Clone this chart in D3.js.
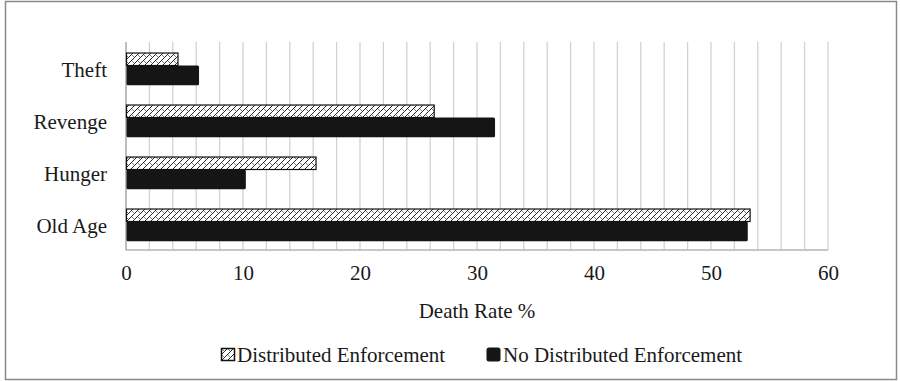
<!DOCTYPE html>
<html>
<head>
<meta charset="utf-8">
<script src="https://cdn.jsdelivr.net/npm/d3@7"></script>
<style>
  html, body { margin: 0; padding: 0; background: #fff; }
  svg { display: block; }
  svg text { font-family: 'Liberation Serif', 'DejaVu Serif', serif; }
</style>
</head>
<body>
<svg id="chart" width="900" height="381"></svg>
<script>
// Causes of death, drawn top to bottom
const categories = ["Theft", "Revenge", "Hunger", "Old Age"];
const seriesNames = ["Distributed Enforcement", "No Distributed Enforcement"];
const distributed = [4.4, 26.3, 16.2, 53.3];
const noDistributed = [6.2, 31.5, 10.2, 53.1];
const xTicks = [0, 10, 20, 30, 40, 50, 60];
const gridStep = 2;
const axisTitle = "Death Rate %";

const FONT = "'Liberation Serif', 'DejaVu Serif', serif";
const FS = 21;
const svg = d3.select("#chart");
const W = 900, H = 381;
const plot = { left: 126, right: 828, top: 42, bottom: 250 };

// Outer frame
svg.append("rect")
  .attr("x", 5.5).attr("y", 1.5)
  .attr("width", W - 9).attr("height", H - 3)
  .attr("fill", "#fff").attr("stroke", "#8a8a8a").attr("stroke-width", 1.5);

// Hatch pattern for the first series
const defs = svg.append("defs");
const pat = defs.append("pattern")
  .attr("id", "hatch")
  .attr("patternUnits", "userSpaceOnUse")
  .attr("width", 6).attr("height", 6);
pat.append("rect").attr("width", 6).attr("height", 6).attr("fill", "#fff");
pat.append("path")
  .attr("d", "M0,6 L6,0 M-1,1 L1,-1 M5,7 L7,5")
  .attr("stroke", "#222").attr("stroke-width", 1);
pat.append("path")
  .attr("d", "M0,1 L2.5,3.5")
  .attr("stroke", "#555").attr("stroke-width", 0.8);

const x = d3.scaleLinear().domain([0, 60]).range([plot.left, plot.right]);
const y = d3.scaleBand().domain(categories).range([plot.top, plot.bottom]).paddingInner(0).paddingOuter(0);

// Vertical gridlines every 2 units
const gridVals = d3.range(gridStep, 60 + 0.001, gridStep);
svg.append("g").selectAll("line")
  .data(gridVals)
  .join("line")
  .attr("x1", d => x(d)).attr("x2", d => x(d))
  .attr("y1", plot.top).attr("y2", plot.bottom)
  .attr("stroke", "#d2d2d2").attr("stroke-width", 1.3);

// Bottom baseline and left axis line
svg.append("line")
  .attr("x1", plot.left).attr("x2", plot.right)
  .attr("y1", plot.bottom).attr("y2", plot.bottom)
  .attr("stroke", "#b5b5b5").attr("stroke-width", 1.3);
svg.append("line")
  .attr("x1", plot.left).attr("x2", plot.left)
  .attr("y1", plot.top).attr("y2", plot.bottom)
  .attr("stroke", "#a8a8a8").attr("stroke-width", 1.5);

// Bars: hatched series on top, solid series below within each band
const bw = y.bandwidth();
const hatchOffset = bw * 0.212, hatchH = bw * 0.24;
const solidOffset = hatchOffset + hatchH, solidH = bw * 0.38;

const gBars = svg.append("g");
gBars.selectAll("rect.dist")
  .data(categories.map((c, i) => ({ c, v: distributed[i] })))
  .join("rect")
  .attr("class", "dist")
  .attr("x", x(0) + 0.5)
  .attr("y", d => y(d.c) + hatchOffset)
  .attr("width", d => x(d.v) - x(0))
  .attr("height", hatchH)
  .attr("fill", "url(#hatch)")
  .attr("stroke", "#111").attr("stroke-width", 1.2);

gBars.selectAll("rect.nodist")
  .data(categories.map((c, i) => ({ c, v: noDistributed[i] })))
  .join("rect")
  .attr("class", "nodist")
  .attr("x", x(0) + 0.5)
  .attr("y", d => y(d.c) + solidOffset)
  .attr("width", d => x(d.v) - x(0))
  .attr("height", solidH)
  .attr("rx", 1.5)
  .attr("fill", "#151515");

// Category labels
svg.append("g").selectAll("text")
  .data(categories)
  .join("text")
  .attr("x", 107)
  .attr("y", d => y(d) + bw / 2 + 8.5)
  .attr("text-anchor", "end")
  .attr("font-family", FONT)
  .attr("font-size", FS)
  .attr("fill", "#1a1a1a")
  .text(d => d);

// X axis tick labels
const xAxis = d3.axisBottom(x).tickValues(xTicks).tickSize(0).tickPadding(0).tickFormat(d3.format("d"));
const gx = svg.append("g").attr("transform", `translate(0, 280)`).call(xAxis);
gx.attr("font-family", FONT).attr("font-size", FS);
gx.select(".domain").remove();
gx.selectAll("text")
  .attr("dy", 0)
  .attr("font-family", FONT)
  .attr("font-size", FS)
  .attr("fill", "#1a1a1a");

// Axis title
svg.append("text")
  .attr("x", (plot.left + plot.right) / 2)
  .attr("y", 318)
  .attr("text-anchor", "middle")
  .attr("font-family", FONT)
  .attr("font-size", FS)
  .attr("fill", "#1a1a1a")
  .text(axisTitle);

// Legend
const legend = svg.append("g");
const legendItems = [
  { name: seriesNames[0], x: 221, y: 348, w: 13, h: 12, fill: "url(#hatch)", stroke: "#111", rx: 0 },
  { name: seriesNames[1], x: 486, y: 347, w: 14, h: 14, fill: "#151515", stroke: "none", rx: 2.5 }
];
legendItems.forEach(it => {
  legend.append("rect")
    .attr("x", it.x + 0.5).attr("y", it.y + 0.5)
    .attr("width", it.w).attr("height", it.h)
    .attr("rx", it.rx)
    .attr("fill", it.fill).attr("stroke", it.stroke).attr("stroke-width", 1.5);
  legend.append("text")
    .attr("x", it.x + it.w + 3).attr("y", 361.5)
    .attr("font-family", FONT)
    .attr("font-size", FS)
    .attr("fill", "#1a1a1a")
    .text(it.name);
});
</script>
</body>
</html>
